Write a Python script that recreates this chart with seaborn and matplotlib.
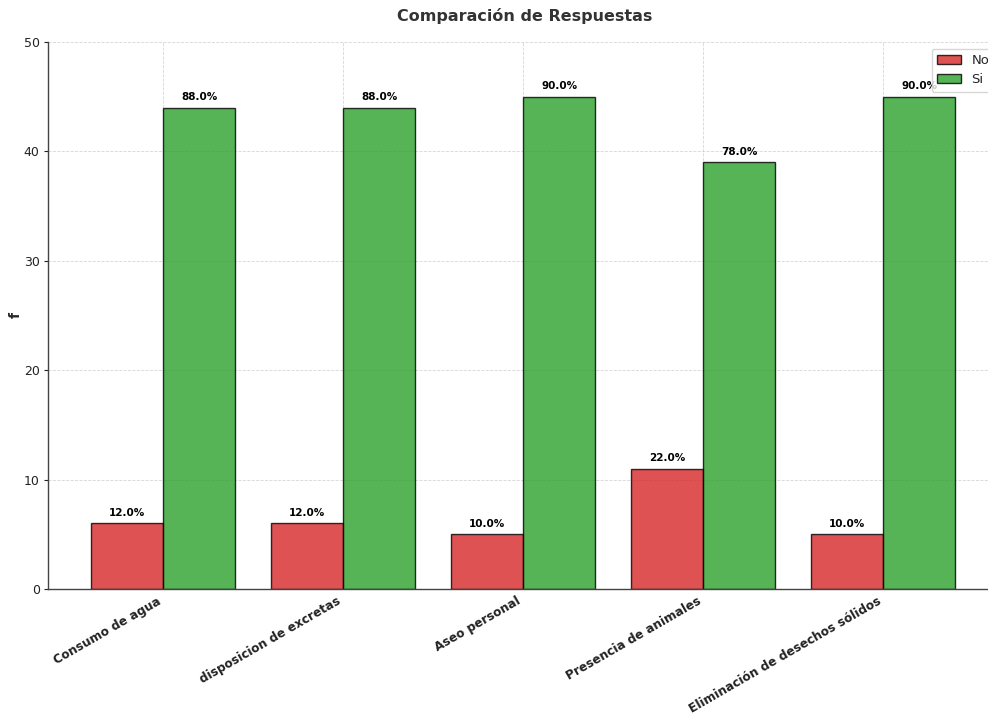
import matplotlib
matplotlib.use("Agg")
import matplotlib.pyplot as plt
import seaborn as sns
import pandas as pd

categories = ["Consumo de agua", "disposicion de excretas", "Aseo personal",
              "Presencia de animales", "Eliminación de desechos sólidos"]
no_counts = [6, 6, 5, 11, 5]
si_counts = [44, 44, 45, 39, 45]
total = 50

df = pd.DataFrame({
    "categoria": categories * 2,
    "respuesta": ["No"] * len(categories) + ["Si"] * len(categories),
    "f": no_counts + si_counts,
})

sns.set_style("whitegrid")
plt.rcParams["font.family"] = ["DejaVu Sans"]

fig = plt.figure(figsize=(9.88, 7.17), dpi=100)
ax = fig.add_axes([48 / 988, 128 / 717, 953 / 988, 547 / 717])

sns.barplot(data=df, x="categoria", y="f", hue="respuesta",
            palette={"No": "#d62728", "Si": "#2ca02c"}, saturation=1,
            alpha=0.8, edgecolor="black", linewidth=1.0, ax=ax)

for container in ax.containers:
    for bar in container:
        h = bar.get_height()
        ax.annotate(f"{h / total * 100:.1f}%",
                    (bar.get_x() + bar.get_width() / 2, h),
                    xytext=(0, 4), textcoords="offset points",
                    ha="center", va="bottom", fontsize=7.5, fontweight="bold",
                    color="black")

ax.set_ylim(0, 50)
ax.set_xlim(-0.64, 4.655)
ax.set_title("Comparación de Respuestas", fontsize=11.5, fontweight="bold",
             color="#333333", pad=15)
ax.set_xlabel("")
ax.set_ylabel("f", fontsize=10, fontweight="bold")
ax.yaxis.set_label_coords(-0.027, 0.5)
plt.setp(ax.get_xticklabels(), rotation=30, ha="right",
         fontweight="bold", fontsize=8.7, color="#222222")
ax.tick_params(axis="y", labelsize=9, colors="#222222", length=3, width=0.8,
               left=True, pad=3)
ax.tick_params(axis="x", length=0, pad=4)

ax.grid(True, linestyle="--", linewidth=0.6, color="#cccccc", alpha=0.8)
ax.set_axisbelow(True)
for side in ["top", "right"]:
    ax.spines[side].set_visible(False)
for side in ["left", "bottom"]:
    ax.spines[side].set_visible(True)
    ax.spines[side].set_color("#444444")
    ax.spines[side].set_linewidth(1.0)

ax.legend(title=None, loc="upper right", fontsize=9.5, frameon=True,
          handlelength=1.8)

fig.savefig("out.png", dpi=100)
